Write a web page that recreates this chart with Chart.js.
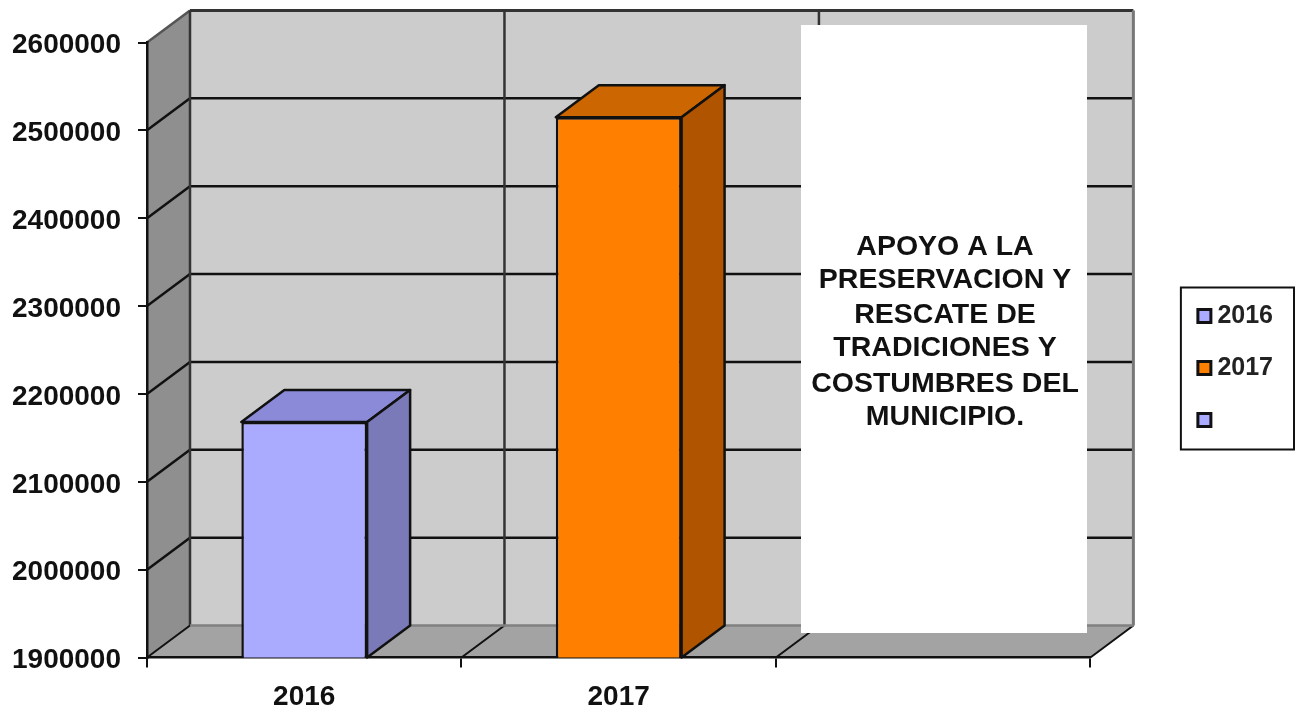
<!DOCTYPE html>
<html><head><meta charset="utf-8">
<style>html,body{margin:0;padding:0;background:#fff}canvas{display:block}</style>
<script src="https://cdn.jsdelivr.net/npm/chart.js@4"></script></head>
<body><canvas id="c" width="1295" height="711"></canvas>
<script>
const categories = ["2016", "2017", ""];
const seriesNames = ["2016", "2017", ""];
const values2016 = [2168000, null, null];
const values2017 = [null, 2515000, null];
const valuesBlank = [null, null, null];
const yTicks = [1900000, 2000000, 2100000, 2200000, 2300000, 2400000, 2500000, 2600000];
const noteLines = ["APOYO A LA", "PRESERVACION Y", "RESCATE DE", "TRADICIONES Y", "COSTUMBRES DEL", "MUNICIPIO."];

const FONT = '"Liberation Sans", Arial, sans-serif';
const DX = 43, DY = -32;
const faces = {
  "#AAAAFF": { top: "#8A8AD8", side: "#7A7AB8" },
  "#FF7F00": { top: "#CC6600", side: "#B05400" }
};
function line(ctx, x1, y1, x2, y2, color, w) {
  ctx.strokeStyle = color; ctx.lineWidth = w;
  ctx.beginPath(); ctx.moveTo(x1, y1); ctx.lineTo(x2, y2); ctx.stroke();
}
function poly(ctx, pts, fill, stroke, w) {
  ctx.beginPath(); pts.forEach((p, i) => i ? ctx.lineTo(p[0], p[1]) : ctx.moveTo(p[0], p[1])); ctx.closePath();
  ctx.fillStyle = fill; ctx.fill();
  if (stroke) { ctx.strokeStyle = stroke; ctx.lineWidth = w; ctx.lineJoin = "round"; ctx.stroke(); }
}
const walls3d = {
  id: "walls3d",
  beforeDraw(chart) {
    const { ctx, chartArea: a, scales: { x, y }, legend } = chart;
    ctx.save();
    poly(ctx, [[a.left + DX, a.top + DY], [a.right + DX, a.top + DY], [a.right + DX, a.bottom + DY], [a.left + DX, a.bottom + DY]], "#CCCCCC");
    poly(ctx, [[a.left, a.top], [a.left + DX, a.top + DY], [a.left + DX, a.bottom + DY], [a.left, a.bottom]], "#8F8F8F");
    poly(ctx, [[a.left, a.bottom], [a.left + DX, a.bottom + DY], [a.right + DX, a.bottom + DY], [a.right, a.bottom]], "#A3A3A3");
    yTicks.forEach(v => {
      const py = y.getPixelForValue(v);
      if (v === yTicks[0]) return;
      const top = v === yTicks[yTicks.length - 1];
      line(ctx, a.left, py, a.left + DX, py + DY, top ? "#555" : "#111", 2.5);
      line(ctx, a.left + DX, py + DY, a.right + DX, py + DY, top ? "#333" : "#111", top ? 3 : 2.5);
    });
    for (let i = 0; i <= categories.length; i++) {
      const px = a.left + (a.right - a.left) * i / categories.length;
      if (i < categories.length) line(ctx, px + DX, a.top + DY, px + DX, a.bottom + DY, "#333", 2.5);
      else line(ctx, px + DX, a.top + DY, px + DX, a.bottom + DY, "#777", 3);
      line(ctx, px, a.bottom, px + DX, a.bottom + DY, "#111", 2);
    }
    line(ctx, a.left + DX, a.bottom + DY, a.right + DX, a.bottom + DY, "#808080", 2.5);
    const hb = legend.legendHitBoxes;
    const fx = hb[0].left - 23, fy = hb[0].top - 16;
    ctx.strokeStyle = "#111"; ctx.lineWidth = 2;
    ctx.strokeRect(fx, fy, chart.width - 1 - fx, hb[2].top + hb[2].height + 17 - fy);
    ctx.restore();
  },
  afterDatasetsDraw(chart) {
    const { ctx, chartArea: a } = chart;
    ctx.save();
    chart.data.datasets.forEach((ds, i) => {
      chart.getDatasetMeta(i).data.forEach((bar, j) => {
        if (ds.data[j] == null) return;
        const hw = bar.width / 2, l = bar.x - hw, r = bar.x + hw, t = bar.y, b = a.bottom;
        const f = faces[ds.backgroundColor];
        poly(ctx, [[l, t], [l + DX, t + DY], [r + DX, t + DY], [r, t]], f.top, "#111", 2.5);
        poly(ctx, [[r, t], [r + DX, t + DY], [r + DX, b + DY], [r, b]], f.side, "#111", 2.5);
      });
    });
    ctx.fillStyle = "#fff";
    ctx.fillRect(801, 25, 286, 608);
    ctx.fillStyle = "#111";
    ctx.font = "bold 28.5px " + FONT;
    ctx.textAlign = "center"; ctx.textBaseline = "middle";
    const ys = [247, 280, 315, 348, 384, 417];
    noteLines.forEach((t, i) => ctx.fillText(t, 945, ys[i]));
    ctx.restore();
  }
};

new Chart(document.getElementById("c"), {
  type: "bar",
  data: {
    labels: categories,
    datasets: [
      { label: seriesNames[0], data: values2016, backgroundColor: "#AAAAFF", borderColor: "#111", borderWidth: 2.5 },
      { label: seriesNames[1], data: values2017, backgroundColor: "#FF7F00", borderColor: "#111", borderWidth: 2.5 },
      { label: seriesNames[2], data: valuesBlank, backgroundColor: "#AAAAFF", borderColor: "#111", borderWidth: 2.5 }
    ]
  },
  plugins: [walls3d],
  options: {
    responsive: false,
    animation: false,
    layout: { padding: { top: 25, bottom: 0, left: 0, right: 12 } },
    datasets: { bar: { grouped: false, barPercentage: 0.4, categoryPercentage: 1 } },
    scales: {
      x: {
        grid: { offset: true, drawOnChartArea: false, drawTicks: true, tickLength: 10, color: "#111", lineWidth: 2 },
        border: { color: "#111", width: 2.5 },
        ticks: { color: "#111", padding: 13, maxRotation: 0, font: { family: FONT, size: 28, weight: "bold" } },
        afterFit(s) { s.height = 53.5; s.paddingLeft = 0; s.paddingRight = 0; }
      },
      y: {
        min: yTicks[0], max: yTicks[yTicks.length - 1],
        afterBuildTicks(s) { s.ticks = yTicks.map(v => ({ value: v })); },
        grid: { drawOnChartArea: false, drawTicks: true, tickLength: 9, color: "#111", lineWidth: 2 },
        border: { color: "#111", width: 2.5 },
        ticks: { color: "#111", padding: 17, labelOffset: 3, font: { family: FONT, size: 28, weight: "bold" }, callback: v => String(v) },
        afterFit(s) { s.width = 147; s.paddingTop = 42.5; s.paddingBottom = 0; }
      },
      spacer: {
        position: "right", display: true,
        grid: { display: false }, border: { display: false }, ticks: { display: false },
        afterFit(s) { s.width = 86.5; }
      }
    },
    plugins: {
      tooltip: { enabled: false },
      legend: {
        position: "right", align: "center",
        labels: {
          usePointStyle: true, pointStyle: "rect", boxWidth: 1, boxHeight: 13, padding: 27, color: "#222",
          font: { family: FONT, size: 25, weight: "bold" },
          generateLabels(chart) {
            return Chart.defaults.plugins.legend.labels.generateLabels(chart).map(it => Object.assign(it, { lineWidth: 3, pointStyle: "rect" }));
          }
        }
      }
    }
  }
});
</script></body></html>
